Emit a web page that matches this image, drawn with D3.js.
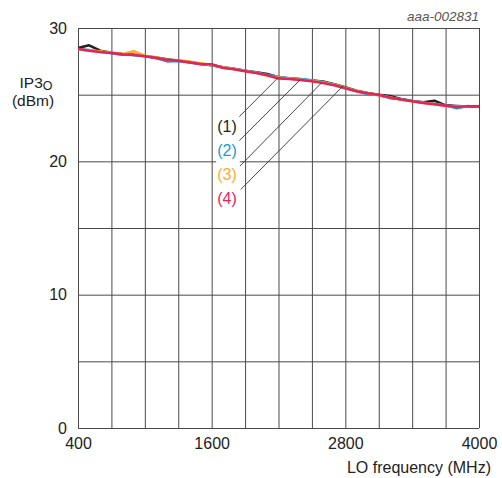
<!DOCTYPE html>
<html><head><meta charset="utf-8">
<script src="https://cdn.jsdelivr.net/npm/d3@7/dist/d3.min.js"></script>
<style>
body{margin:0;background:#fff;}
text{font-family:Arial,"Liberation Sans",sans-serif;}
</style></head>
<body><svg id="c" width="502" height="478"></svg>
<script>
const freqs = [400,500,600,700,800,900,1000,1100,1200,1300,1400,1500,1600,1700,1800,1900,2000,2100,2200,2300,2400,2500,2600,2700,2800,2900,3000,3100,3200,3300,3400,3500,3600,3700,3800,3900,4000];
const series1 = [28.5,28.7,28.3,28.15,28.05,27.98,27.9,27.78,27.65,27.55,27.45,27.32,27.2,27.05,26.95,26.8,26.68,26.55,26.3,26.22,26.15,26.05,25.98,25.78,25.55,25.3,25.13,25.0,24.9,24.68,24.52,24.42,24.55,24.2,24.15,24.1,24.1];
const series2 = [28.4,28.35,28.22,28.1,28.0,27.97,27.9,27.75,27.5,27.52,27.43,27.28,27.22,27.03,26.92,26.8,26.66,26.5,26.35,26.2,26.18,26.08,25.95,25.76,25.5,25.25,25.05,24.98,24.75,24.66,24.52,24.4,24.3,24.2,23.98,24.15,24.08];
const series3 = [28.42,28.3,28.25,28.15,28.05,28.25,27.92,27.8,27.62,27.58,27.48,27.35,27.25,27.06,26.93,26.78,26.64,26.42,26.28,26.2,26.12,26.02,25.92,25.74,25.52,25.28,25.12,24.95,24.8,24.62,24.5,24.4,24.3,24.15,24.1,24.12,24.15];
const series4 = [28.45,28.3,28.2,28.12,28.02,28.0,27.88,27.76,27.6,27.55,27.42,27.3,27.28,27.02,26.9,26.76,26.62,26.45,26.22,26.17,26.1,26.0,25.88,25.7,25.48,25.26,25.1,24.97,24.78,24.64,24.5,24.38,24.28,24.18,24.08,24.13,24.12];
const seriesNames = ["(1)","(2)","(3)","(4)"];
const seriesColors = ["#231f20","#1b9ad6","#f9ae2a","#e3245c"];
const xTicks = [400,1600,2800,4000];
const yTicks = [0,10,20,30];
const xGrid = [400,700,1000,1300,1600,1900,2200,2500,2800,3100,3400,3700,4000];
const yGrid = [0,5,10,15,20,25,30];
// annotation: label anchor [freq, value], leader start, leader end
const labelPos = [[1825,22.6],[1825,20.8],[1825,19.0],[1825,17.2]];
const leaderStart = [[1848,23.35],[1848,21.55],[1854,19.65],[1861,17.89]];
const leaderEnd = [[2198,26.29],[2393,26.1],[2588,25.9],[2780,25.65]];

const svg = d3.select("#c");
const L=78,R=479,T=28,B=428;
const x = d3.scaleLinear().domain([400,4000]).range([L,R]);
const y = d3.scaleLinear().domain([0,30]).range([B,T]);
const gridColor="#4a4a4a";

// grid via axes
const gx = svg.append("g").attr("transform",`translate(0,${B})`)
  .call(d3.axisBottom(x).tickValues(xGrid).tickSize(-(B-T)).tickFormat(""));
gx.select(".domain").remove();
gx.selectAll("line").attr("stroke",gridColor).attr("stroke-width",1);
const gy = svg.append("g").attr("transform",`translate(${L},0)`)
  .call(d3.axisLeft(y).tickValues(yGrid).tickSize(-(R-L)).tickFormat(""));
gy.select(".domain").remove();
gy.selectAll("line").attr("stroke",gridColor).attr("stroke-width",1);

// tick labels
const ax = svg.append("g").attr("transform",`translate(0,${B})`)
  .call(d3.axisBottom(x).tickValues(xTicks).tickSize(0).tickPadding(10).tickFormat(d3.format("d")));
ax.select(".domain").remove();
ax.selectAll("text").attr("font-size",16).attr("fill","#222").attr("font-family","Arial, 'Liberation Sans', sans-serif");
const ay = svg.append("g").attr("transform",`translate(${L},0)`)
  .call(d3.axisLeft(y).tickValues(yTicks).tickSize(0).tickPadding(11).tickFormat(d3.format("d")));
ay.select(".domain").remove();
ay.selectAll("text").attr("font-size",16).attr("fill","#222").attr("font-family","Arial, 'Liberation Sans', sans-serif");

// series
const allSeries=[series1,series2,series3,series4];
const line = d3.line().x((d,i)=>x(freqs[i])).y(d=>y(d));
allSeries.forEach((s,k)=>{
  svg.append("path").datum(s).attr("d",line).attr("fill","none")
    .attr("stroke",seriesColors[k]).attr("stroke-width",2.6).attr("stroke-linejoin","round");
});

// labels with white background
const lg = svg.append("g");
const bg = lg.append("rect").attr("fill","#fff");
const labs = lg.selectAll("text.lab").data(seriesNames).join("text").attr("class","lab")
  .attr("x",(d,i)=>x(labelPos[i][0])).attr("y",(d,i)=>y(labelPos[i][1]))
  .attr("dy","0.35em").attr("text-anchor","end").attr("font-size",16)
  .attr("fill",(d,i)=>seriesColors[i]).text(d=>d);
const bb = lg.node().getBBox();
bg.attr("x",bb.x-1).attr("y",bb.y-2).attr("width",bb.width+4).attr("height",bb.height+4);
svg.selectAll("line.lead").data(seriesNames).join("line").attr("class","lead")
  .attr("x1",(d,i)=>x(leaderStart[i][0])).attr("y1",(d,i)=>y(leaderStart[i][1]))
  .attr("x2",(d,i)=>x(leaderEnd[i][0])).attr("y2",(d,i)=>y(leaderEnd[i][1]))
  .attr("stroke","#333").attr("stroke-width",0.9);

// axis titles
const yt = svg.append("text").attr("x",36).attr("y",87.5).attr("text-anchor","middle").attr("font-size",15.5).attr("fill","#222");
yt.append("tspan").text("IP3");
yt.append("tspan").attr("dy",2.5).attr("font-size",12.5).text("O");
svg.append("text").attr("x",33).attr("y",106).attr("text-anchor","middle").attr("font-size",15.5).attr("fill","#222").text("(dBm)");
svg.append("text").attr("x",491).attr("y",473).attr("text-anchor","end").attr("font-size",16).attr("fill","#222").text("LO frequency (MHz)");
svg.append("text").attr("x",479).attr("y",21).attr("text-anchor","end").attr("font-size",13.5).attr("font-style","italic").attr("fill","#555").text("aaa-002831");
</script></body></html>
